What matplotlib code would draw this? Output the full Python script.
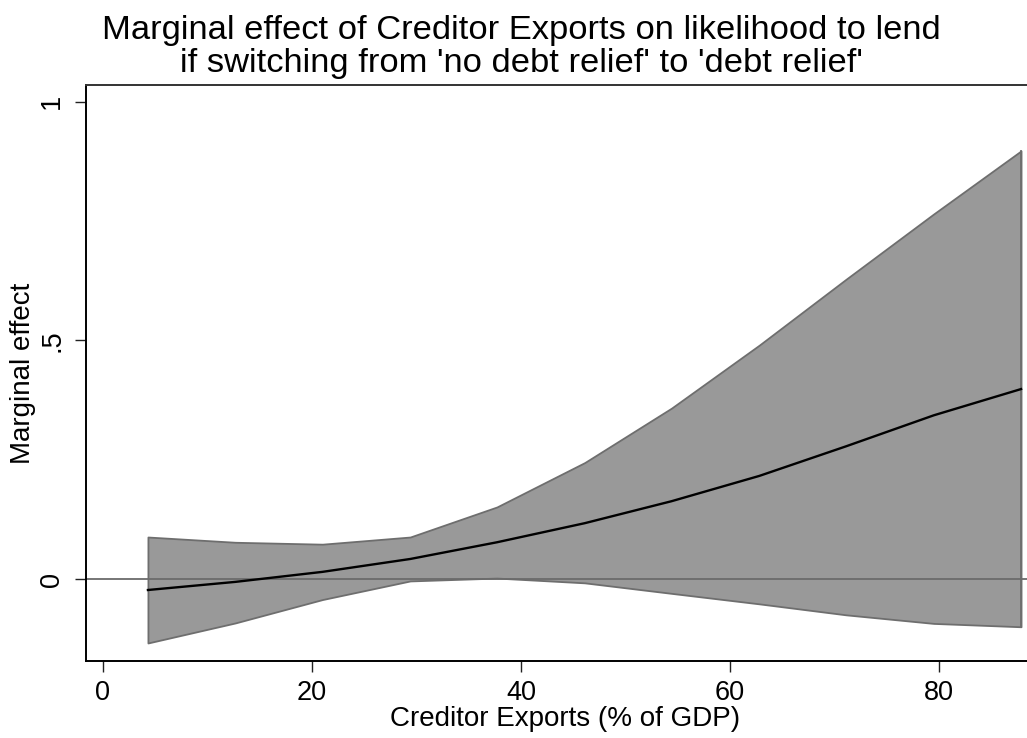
import matplotlib
matplotlib.use("Agg")
import matplotlib.pyplot as plt

plt.rcParams['font.family'] = ['Liberation Sans', 'DejaVu Sans']

# predicted marginal effects at each level of creditor exports
exports = [4.3, 12.66, 21.0, 29.4, 37.7, 46.1, 54.4, 62.8, 71.1, 79.5, 87.85]
effect = [-0.023, -0.006, 0.015, 0.042, 0.077, 0.117, 0.163, 0.216, 0.278, 0.343, 0.398]
ci_upper = [0.088, 0.077, 0.073, 0.088, 0.151, 0.244, 0.358, 0.490, 0.628, 0.765, 0.897]
ci_lower = [-0.134, -0.092, -0.043, -0.004, 0.002, -0.008, -0.030, -0.052, -0.075, -0.093, -0.100]

x_ticks = [0, 20, 40, 60, 80]
y_ticks = [0, 0.5, 1]
y_tick_labels = ['0', '.5', '1']

title = ("Marginal effect of Creditor Exports on likelihood to lend\n"
         "if switching from 'no debt relief' to 'debt relief'")

fig = plt.figure(figsize=(10.27, 7.38), dpi=100)
ax = fig.add_axes([0.0837, 0.1043, 0.9163, 0.7805])

ax.fill_between(exports, ci_lower, ci_upper, facecolor='#999999',
                edgecolor='#6e6e6e', linewidth=1.3, zorder=1)
# close the right edge of the band
ax.plot([exports[-1], exports[-1]], [ci_lower[-1], ci_upper[-1]],
        color='#6e6e6e', linewidth=1.3, zorder=1.5)
ax.axhline(0, color='#6b6b6b', linewidth=1.3, zorder=2)
ax.plot(exports, effect, color='black', linewidth=1.7, zorder=3)

ax.set_xlim(-1.63, 88.42)
ax.set_ylim(-0.1718, 1.035)

ax.set_xticks(x_ticks)
ax.set_yticks(y_ticks)
ax.set_yticklabels(y_tick_labels, rotation=90, va='center')
ax.tick_params(axis='both', labelsize=19.5, length=8, width=1.0, direction='out',
               color='#222222')
ax.tick_params(axis='x', pad=6)
ax.tick_params(axis='y', pad=7)

ax.spines['right'].set_visible(False)
for side in ('left', 'bottom'):
    ax.spines[side].set_linewidth(1.4)
    ax.spines[side].set_color('black')
ax.spines['top'].set_linewidth(1.4)
ax.spines['top'].set_color('#333333')

ax.set_xlabel('Creditor Exports (% of GDP)', fontsize=20, va='center')
ax.xaxis.set_label_coords(0.509, -0.1007)
ax.set_ylabel('Marginal effect', fontsize=20, va='center')
ax.yaxis.set_label_coords(-0.067, 0.5)

fig.text(0.508, 0.980, title, ha='center', va='top', fontsize=24.8,
         linespacing=1.1)

fig.savefig('out.png', dpi=100)
